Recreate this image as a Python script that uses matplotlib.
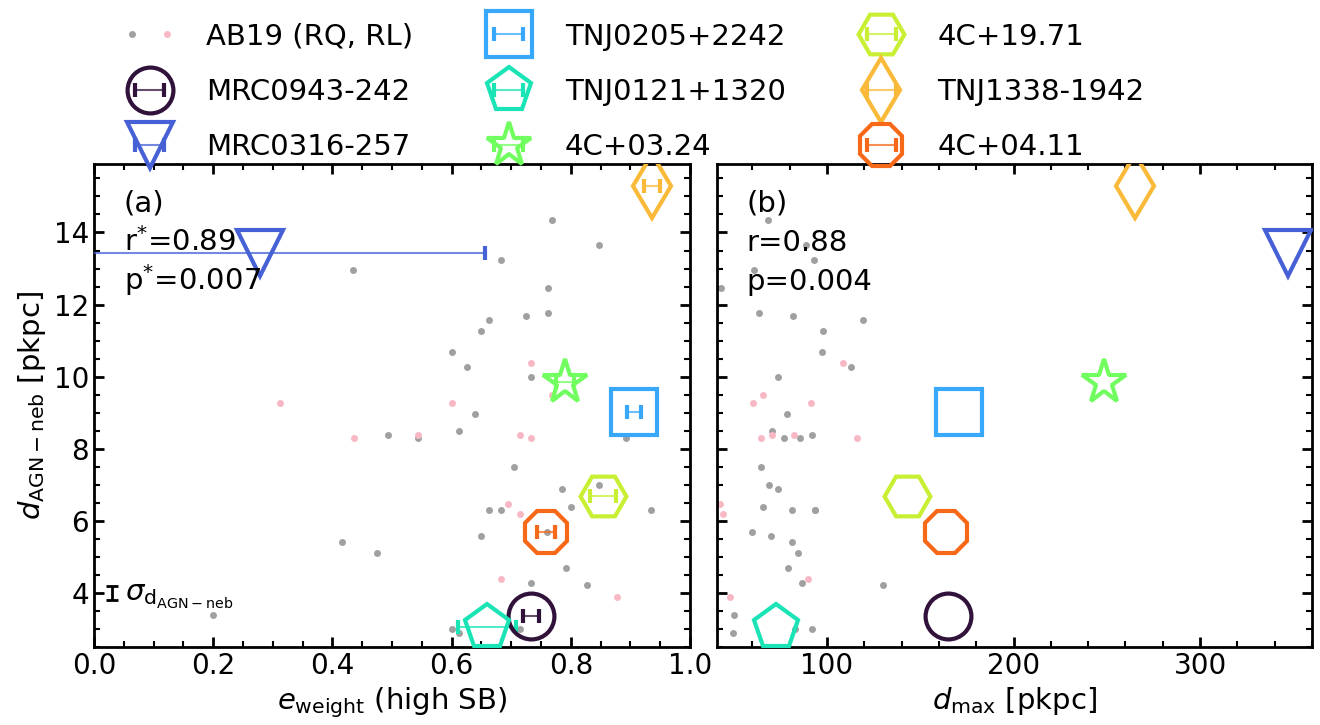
import numpy as np
import matplotlib
matplotlib.use("Agg")
import matplotlib.pyplot as plt
from matplotlib.legend_handler import HandlerTuple, HandlerErrorbar
from matplotlib.container import ErrorbarContainer
from matplotlib.ticker import AutoMinorLocator

# ---------------- data ----------------
# AB19 radio-quiet (grey)
rq_d_agn = [14.36, 13.66, 13.25, 12.96, 12.47, 11.76, 11.68, 11.57, 11.27, 10.68, 10.27, 9.98,
            8.97, 8.48, 8.39, 8.29, 8.29, 7.48, 7.00, 6.89, 6.39, 6.29, 6.29, 6.29, 5.69, 5.58,
            5.40, 5.10, 4.69, 4.28, 4.21, 3.39, 3.01, 3.01, 2.90]
rq_eweight = [0.769, 0.848, 0.683, 0.435, 0.761, 0.761, 0.724, 0.662, 0.650, 0.601, 0.626, 0.733,
              0.639, 0.612, 0.494, 0.543, 0.893, 0.705, 0.848, 0.785, 0.800, 0.662, 0.683, 0.934,
              0.760, 0.650, 0.416, 0.475, 0.792, 0.733, 0.828, 0.199, 0.601, 0.715, 0.612]
rq_dmax = [68.5, 88.7, 93.2, 60.9, 43.4, 63.6, 81.7, 119.2, 98.0, 97.1, 112.9, 73.7,
           78.5, 70.6, 91.8, 76.9, 85.5, 64.7, 69.0, 73.8, 65.8, 81.2, 93.7, 93.7,
           59.5, 70.1, 81.2, 84.4, 79.0, 86.4, 130.1, 50.0, 82.8, 91.8, 49.5]
# AB19 radio-loud (pink)
rl_d_agn = [10.38, 9.49, 9.28, 9.28, 8.39, 8.39, 8.30, 8.29, 6.48, 6.18, 4.39, 3.90]
rl_eweight = [0.733, 0.768, 0.312, 0.601, 0.543, 0.715, 0.436, 0.733, 0.695, 0.715, 0.683, 0.877]
rl_dmax = [108.4, 65.8, 60.4, 91.2, 70.6, 82.3, 64.7, 116.0, 42.5, 44.2, 89.6, 47.8]

# HzRGs
names = ["MRC0943-242", "MRC0316-257", "TNJ0205+2242", "TNJ0121+1320",
         "4C+03.24", "4C+19.71", "TNJ1338-1942", "4C+04.11"]
markers = ['o', 'v', 's', 'p', '*', 'H', 'd', '8']
hz_eweight = [0.733, 0.278, 0.906, 0.659, 0.791, 0.854, 0.936, 0.759]
hz_eweight_err = [0.013, 0.378, 0.012, 0.049, 0.015, 0.022, 0.013, 0.015]
hz_d_agn = [3.36, 13.44, 9.03, 3.06, 9.85, 6.68, 15.28, 5.69]
hz_dmax = [165.0, 347.0, 170.7, 72.6, 248.4, 143.0, 265.0, 164.0]

stats_a = ["(a)", r"r$^{*}$=0.89", r"p$^{*}$=0.007"]
stats_b = ["(b)", "r=0.88", "p=0.004"]

# ---------------- style ----------------
FS = 21
plt.rcParams['font.family'] = ['DejaVu Sans']
plt.rcParams['mathtext.default'] = 'it'

fig = plt.figure(figsize=(13.2, 7.25), dpi=100)
ax1 = fig.add_axes([94/1320, 1-647/725, (690-94)/1320, (647-164)/725])
ax2 = fig.add_axes([717/1320, 1-647/725, (1312-717)/1320, (647-164)/725], sharey=ax1)

colors = [plt.cm.turbo(i/9) for i in range(8)]
grey = '#a0a0a0'
pink = '#f7b8c4'
dot_ms = 5

handles = []
for ax, xq, xl, panel in [(ax1, rq_eweight, rl_eweight, 'a'), (ax2, rq_dmax, rl_dmax, 'b')]:
    hq, = ax.plot(xq, rq_d_agn, 'o', color=grey, ms=dot_ms, mec='none', zorder=2)
    hl, = ax.plot(xl, rl_d_agn, 'o', color=pink, ms=dot_ms, mec='none', zorder=2)
    if panel == 'a':
        handles.append((hq, hl))
    for i in range(len(names)):
        if panel == 'a':
            eb = ax.errorbar(hz_eweight[i], hz_d_agn[i], xerr=hz_eweight_err[i], fmt=markers[i],
                             ms=33, mew=3, mfc='none', mec=colors[i], ecolor=colors[i],
                             elinewidth=1.5, capsize=5, capthick=2.5, zorder=3, label=names[i])
            for lc in eb[2]:
                lc.set_alpha(0.75)
            handles.append(eb)
        else:
            ax.plot(hz_dmax[i], hz_d_agn[i], markers[i], ms=33, mew=3, mfc='none',
                    mec=colors[i], zorder=3)

for ax in (ax1, ax2):
    ax.tick_params(which='both', direction='in', top=True, right=True, labelsize=20)
    ax.tick_params(which='major', length=7, width=2)
    ax.tick_params(which='minor', length=4, width=1.5)
    ax.xaxis.set_minor_locator(AutoMinorLocator())
    ax.yaxis.set_minor_locator(AutoMinorLocator())
    for s in ax.spines.values():
        s.set_linewidth(2)

ax1.set_xlim(0, 1)
ax2.set_xlim(41, 360)
ax1.set_ylim(2.5, 15.9)
ax1.set_xticks([0.0, 0.2, 0.4, 0.6, 0.8, 1.0])
ax2.set_xticks([100, 200, 300])
ax1.set_yticks([4, 6, 8, 10, 12, 14])
plt.setp(ax2.get_yticklabels(), visible=False)

ax1.set_xlabel(r"$e_{\rm weight}$ (high SB)", fontsize=FS)
ax2.set_xlabel(r"$d_{\rm max}$ [pkpc]", fontsize=FS)
ax1.set_ylabel(r"$d_{\rm AGN-neb}$ [pkpc]", fontsize=FS)

ys = [0.901, 0.820, 0.739]
for ax, txts in [(ax1, stats_a), (ax2, stats_b)]:
    for t, yy in zip(txts, ys):
        ax.text(0.05, yy, t, transform=ax.transAxes, fontsize=FS, va='baseline', ha='left', zorder=5)

# typical uncertainty
ax1.errorbar(0.03, 4.0, yerr=0.2, fmt='none', ecolor='k', elinewidth=2, capsize=4, capthick=2)
ax1.text(0.052, 3.78, r"$\sigma_{\rm d_{AGN-neb}}$", fontsize=FS, va='baseline', ha='left')

labels = ["AB19 (RQ, RL)"] + names
fig.legend(handles, labels, ncol=3, loc='upper left', bbox_to_anchor=(109/1320, 1-11/725),
           frameon=False, fontsize=FS, handlelength=2.0, handletextpad=0.93,
           columnspacing=2.27, labelspacing=0.93, borderaxespad=0,
           handler_map={tuple: HandlerTuple(ndivide=None),
                        ErrorbarContainer: HandlerErrorbar(xerr_size=0.5)})

fig.savefig("out.png", dpi=100)
